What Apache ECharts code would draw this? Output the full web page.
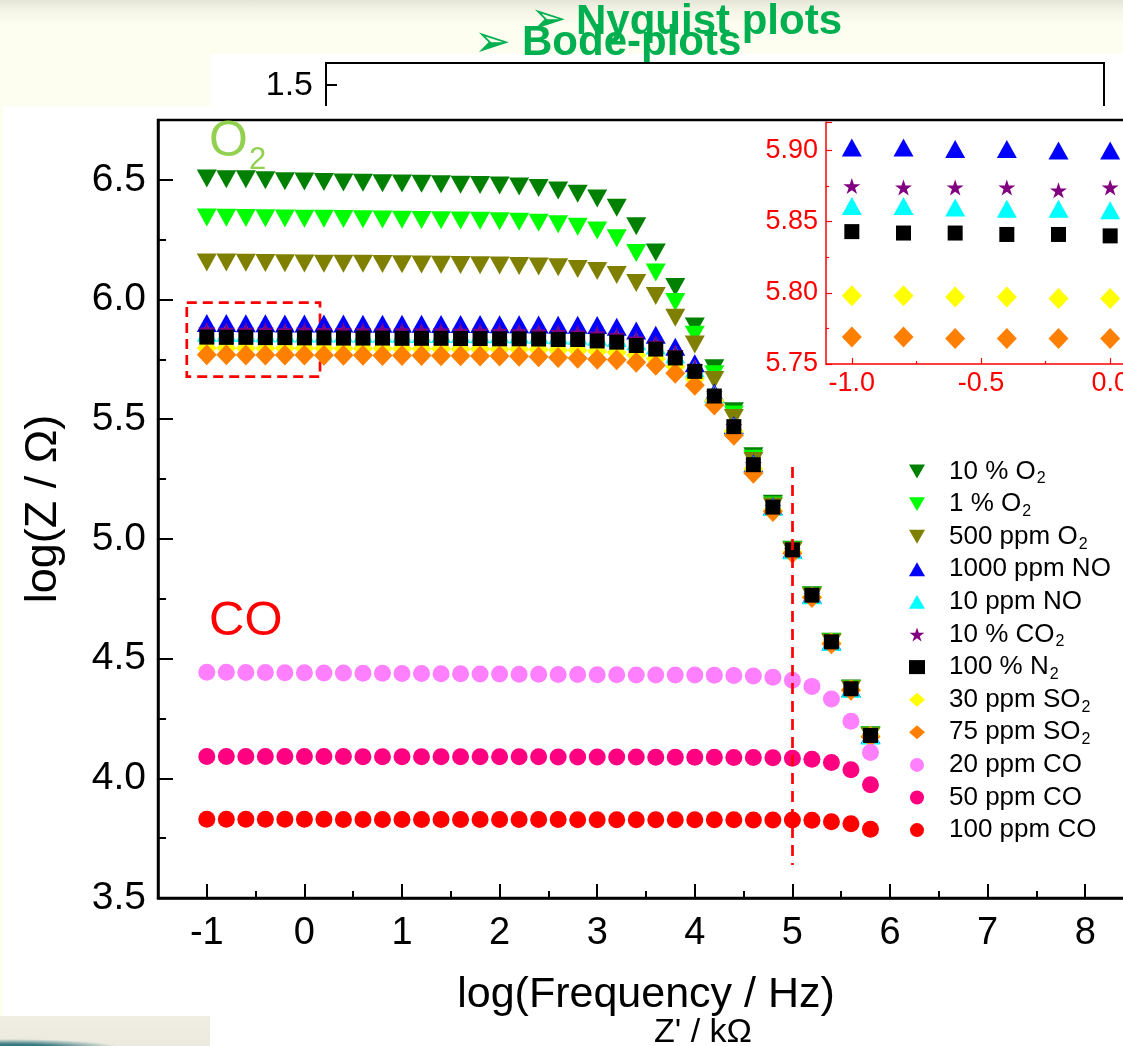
<!DOCTYPE html>
<html>
<head>
<meta charset="utf-8">
<script src="https://cdn.jsdelivr.net/npm/echarts@6/dist/echarts.min.js"></script>
<style>
  html, body { margin: 0; padding: 0; width: 1123px; height: 1046px; overflow: hidden; }
  body { position: relative; background: linear-gradient(#e4e4d8 0px, #f4f4e6 10px, #fefef0 24px, #fefef0 100%); }
  .panel { position: absolute; background: #ffffff; }
  #photo { position: absolute; left: 0; top: 1016px; width: 210px; height: 30px;
           background: radial-gradient(ellipse 110px 9px at 10px 32px, #2f6e78 0%, #3d7c84 45%, rgba(61,124,132,0) 100%),
                       linear-gradient(#f0eee3, #eceadf); }
  #chart { position: absolute; left: 0; top: 0; width: 1200px; height: 1046px; }
</style>
</head>
<body>
<div class="panel" style="left:210px; top:54px; width:913px; height:60px;"></div>
<div class="panel" style="left:3px; top:106px; width:1120px; height:910px;"></div>
<div class="panel" style="left:210px; top:1014px; width:913px; height:32px;"></div>
<div id="photo"></div>
<div id="chart"></div>
<script>
// log(frequency / Hz) of each measured point
const freq = [-1.0, -0.8, -0.6, -0.4, -0.2, 0.0, 0.2, 0.4, 0.6, 0.8, 1.0, 1.2, 1.4, 1.6, 1.8,
              2.0, 2.2, 2.4, 2.6, 2.8, 3.0, 3.2, 3.4, 3.6, 3.8, 4.0, 4.2, 4.4, 4.6, 4.8,
              5.0, 5.2, 5.4, 5.6, 5.8];

// log(|Z| / Ohm) per gas atmosphere
const o2_10pct = [6.506, 6.502, 6.502, 6.498, 6.494, 6.493, 6.491, 6.489, 6.488, 6.486, 6.485, 6.484, 6.482, 6.480, 6.478,
                  6.476, 6.472, 6.466, 6.455, 6.442, 6.422, 6.383, 6.306, 6.197, 6.052, 5.887, 5.713, 5.533, 5.345, 5.147,
                  4.955, 4.765, 4.570, 4.375, 4.180];
const o2_1pct = [6.343, 6.342, 6.341, 6.340, 6.339, 6.338, 6.337, 6.336, 6.335, 6.334, 6.333, 6.332, 6.331, 6.330, 6.329,
                 6.327, 6.325, 6.321, 6.315, 6.304, 6.288, 6.256, 6.194, 6.113, 5.990, 5.853, 5.688, 5.520, 5.335, 5.140,
                 4.952, 4.763, 4.568, 4.373, 4.178];
const o2_500ppm = [6.155, 6.155, 6.154, 6.153, 6.152, 6.151, 6.150, 6.150, 6.149, 6.148, 6.147, 6.146, 6.145, 6.144, 6.143,
                   6.142, 6.140, 6.138, 6.135, 6.128, 6.119, 6.103, 6.069, 6.015, 5.924, 5.812, 5.664, 5.505, 5.325, 5.135,
                   4.950, 4.760, 4.566, 4.371, 4.176];
const no_1000ppm = [5.902, 5.902, 5.901, 5.901, 5.900, 5.900, 5.900, 5.900, 5.899, 5.899, 5.899, 5.899, 5.898, 5.898, 5.898,
                    5.897, 5.897, 5.896, 5.895, 5.895, 5.894, 5.886, 5.871, 5.853, 5.803, 5.734, 5.612, 5.476, 5.316, 5.136,
                    4.956, 4.767, 4.572, 4.376, 4.181];
const no_10ppm = [5.861, 5.861, 5.860, 5.859, 5.859, 5.858, 5.858, 5.858, 5.857, 5.857, 5.857, 5.856, 5.856, 5.856, 5.855,
                  5.855, 5.854, 5.853, 5.851, 5.849, 5.845, 5.839, 5.826, 5.808, 5.770, 5.712, 5.604, 5.470, 5.311, 5.133,
                  4.953, 4.765, 4.570, 4.374, 4.179];
const co2_10pct = [5.875, 5.874, 5.874, 5.874, 5.872, 5.874, 5.873, 5.873, 5.872, 5.872, 5.872, 5.871, 5.871, 5.870, 5.870,
                   5.869, 5.868, 5.867, 5.865, 5.863, 5.859, 5.852, 5.838, 5.820, 5.781, 5.720, 5.608, 5.472, 5.313, 5.134,
                   4.954, 4.766, 4.571, 4.375, 4.180];
const n2_100pct = [5.843, 5.842, 5.842, 5.841, 5.841, 5.840, 5.840, 5.839, 5.839, 5.839, 5.838, 5.838, 5.838, 5.837, 5.837,
                   5.836, 5.836, 5.835, 5.833, 5.833, 5.827, 5.822, 5.808, 5.793, 5.756, 5.700, 5.597, 5.469, 5.310, 5.133,
                   4.954, 4.765, 4.570, 4.374, 4.179];
const so2_30ppm = [5.798, 5.798, 5.797, 5.797, 5.796, 5.796, 5.796, 5.795, 5.795, 5.795, 5.794, 5.794, 5.794, 5.793, 5.793,
                   5.792, 5.792, 5.791, 5.789, 5.788, 5.784, 5.779, 5.767, 5.753, 5.720, 5.668, 5.578, 5.450, 5.292, 5.120,
                   4.945, 4.758, 4.565, 4.370, 4.176];
const so2_75ppm = [5.769, 5.769, 5.768, 5.768, 5.768, 5.768, 5.767, 5.767, 5.767, 5.766, 5.766, 5.766, 5.765, 5.765, 5.764,
                   5.764, 5.763, 5.761, 5.758, 5.755, 5.751, 5.748, 5.738, 5.726, 5.692, 5.642, 5.559, 5.433, 5.274, 5.115,
                   4.940, 4.755, 4.562, 4.368, 4.174];
const co_20ppm = [4.443, 4.443, 4.442, 4.442, 4.441, 4.441, 4.440, 4.440, 4.439, 4.439, 4.438, 4.438, 4.437, 4.437, 4.436,
                  4.436, 4.435, 4.435, 4.434, 4.434, 4.433, 4.433, 4.432, 4.432, 4.432, 4.432, 4.431, 4.429, 4.427, 4.422,
                  4.410, 4.384, 4.331, 4.238, 4.108];
const co_50ppm = [4.091, 4.091, 4.091, 4.091, 4.091, 4.091, 4.091, 4.091, 4.090, 4.090, 4.090, 4.090, 4.090, 4.090, 4.090,
                  4.090, 4.090, 4.090, 4.089, 4.089, 4.089, 4.089, 4.089, 4.088, 4.088, 4.088, 4.088, 4.087, 4.087, 4.086,
                  4.084, 4.080, 4.066, 4.036, 3.973];
const co_100ppm = [3.829, 3.829, 3.829, 3.829, 3.829, 3.829, 3.829, 3.828, 3.828, 3.828, 3.828, 3.828, 3.828, 3.828, 3.828,
                   3.828, 3.828, 3.828, 3.828, 3.827, 3.827, 3.827, 3.827, 3.827, 3.827, 3.827, 3.827, 3.827, 3.826, 3.826,
                   3.826, 3.825, 3.819, 3.810, 3.787];

const seriesNames = ['10 % O2', '1 % O2', '500 ppm O2', '1000 ppm NO', '10 ppm NO', '10 % CO2',
                     '100 % N2', '30 ppm SO2', '75 ppm SO2', '20 ppm CO', '50 ppm CO', '100 ppm CO'];
const seriesValues = [o2_10pct, o2_1pct, o2_500ppm, no_1000ppm, no_10ppm, co2_10pct,
                      n2_100pct, so2_30ppm, so2_75ppm, co_20ppm, co_50ppm, co_100ppm];

// series shown again in the low-frequency zoom panel (indices into seriesNames)
const insetSeries = [3, 4, 5, 6, 7, 8];
const insetPointCount = 6;   // -1.0 ... 0.0

// axis ticks
const xTicks = [-1, 0, 1, 2, 3, 4, 5, 6, 7, 8];
const xMinorTicks = [-0.5, 0.5, 1.5, 2.5, 3.5, 4.5, 5.5, 6.5, 7.5];
const insetXTicks = [-1.0, -0.5, 0.0];
const insetXMinorTicks = [-0.75, -0.25];

// marked regions
const zoomBox = [[-1.205, 5.987], [0.16, 5.678]];
const cutoffLine = [[5.0, 5.30], [5.0, 3.638]];

// ---------- styling ----------
const FONT = '"Liberation Sans", Arial, Helvetica, sans-serif';
const colors = ['#008000', '#00ff00', '#808000', '#0000ff', '#00ffff', '#800080',
                '#000000', '#ffff00', '#ff8000', '#ff80ff', '#ff0080', '#ff0000'];
const DOWN = 'path://M0,0L20,0L10,17.32Z';
const UP = 'path://M10,0L20,17.32L0,17.32Z';
const STAR = 'path://M100,0L122.45,69.1L195.1,69.1L136.33,111.8L158.78,180.9L100,138.2L41.22,180.9L63.67,111.8L4.9,69.1L77.55,69.1Z';
const markers = [
  { symbol: DOWN, size: [20, 18] }, { symbol: DOWN, size: [20, 18] }, { symbol: DOWN, size: [20, 18] },
  { symbol: UP, size: [20, 18] }, { symbol: UP, size: [20, 18] }, { symbol: STAR, size: [17, 16] },
  { symbol: 'rect', size: [15, 15] }, { symbol: 'diamond', size: [20, 21] }, { symbol: 'diamond', size: [20, 21] },
  { symbol: 'circle', size: [17, 17] }, { symbol: 'circle', size: [17, 17] }, { symbol: 'circle', size: [17, 17] }
];
const drawOrder = [2, 2, 2, 2, 2, 2, 4, 2, 2, 2, 2, 2];

const mainSeries = seriesNames.map((name, i) => ({
  type: 'scatter', name: name, xAxisIndex: 0, yAxisIndex: 0,
  data: freq.map((f, j) => [f, seriesValues[i][j]]),
  symbol: markers[i].symbol, symbolSize: markers[i].size,
  itemStyle: { color: colors[i], opacity: 1 },
  z: drawOrder[i], silent: true
}));

const zoomSeries = insetSeries.map(i => ({
  type: 'scatter', name: seriesNames[i], xAxisIndex: 2, yAxisIndex: 1,
  data: freq.slice(0, insetPointCount).map((f, j) => [f, seriesValues[i][j]]),
  symbol: markers[i].symbol, symbolSize: markers[i].size,
  itemStyle: { color: colors[i], opacity: 1 },
  z: drawOrder[i], silent: true
}));

const annotationSeries = {
  type: 'scatter', xAxisIndex: 0, yAxisIndex: 0, data: [], silent: true, z: 5,
  markArea: {
    silent: true,
    itemStyle: { color: 'rgba(0,0,0,0)', borderColor: '#ff0000', borderWidth: 2.7, borderType: [10, 6] },
    data: [[{ coord: zoomBox[0] }, { coord: zoomBox[1] }]]
  },
  markLine: {
    silent: true, symbol: 'none', label: { show: false },
    lineStyle: { color: '#ff0000', width: 2.7, type: [11, 7] },
    data: [[{ coord: cutoffLine[0] }, { coord: cutoffLine[1] }]]
  }
};

const blackText = { color: '#000', fontFamily: FONT };
const redText = { color: '#ff0000', fontFamily: FONT };

const option = {
  animation: false,
  backgroundColor: 'transparent',
  grid: [
    { left: 158, top: 120, width: 976, height: 778, show: true, backgroundColor: '#ffffff',
      borderColor: '#000', borderWidth: 2.5 },
    { left: 826, top: 122, width: 310, height: 242 }
  ],
  xAxis: [
    { type: 'value', gridIndex: 0, min: -1.5, max: 8.5, position: 'bottom',
      axisLine: { onZero: false, lineStyle: { color: '#000', width: 2.5 } },
      axisTick: { inside: true, length: 14, lineStyle: { color: '#000', width: 2 }, customValues: xTicks },
      axisLabel: Object.assign({ fontSize: 38, margin: 17, customValues: xTicks, formatter: v => String(v) }, blackText),
      splitLine: { show: false },
      name: 'log(Frequency / Hz)', nameLocation: 'middle', nameGap: 76,
      nameTextStyle: Object.assign({ fontSize: 43 }, blackText) },
    { type: 'value', gridIndex: 0, min: -1.5, max: 8.5, position: 'bottom',
      axisLine: { show: false, onZero: false },
      axisTick: { inside: true, length: 7, lineStyle: { color: '#000', width: 2 }, customValues: xMinorTicks },
      axisLabel: { show: false }, splitLine: { show: false } },
    { type: 'value', gridIndex: 1, min: -1.1, max: 0.1, position: 'bottom',
      axisLine: { onZero: false, lineStyle: { color: '#ff0000', width: 1.5 } },
      axisTick: { inside: true, length: 6, lineStyle: { color: '#ff0000', width: 1.2 }, customValues: insetXTicks },
      axisLabel: Object.assign({ fontSize: 27, margin: 6, customValues: insetXTicks, formatter: v => v.toFixed(1) }, redText),
      splitLine: { show: false } },
    { type: 'value', gridIndex: 1, min: -1.1, max: 0.1, position: 'bottom',
      axisLine: { show: false, onZero: false },
      axisTick: { inside: true, length: 3, lineStyle: { color: '#ff0000', width: 1.2 }, customValues: insetXMinorTicks },
      axisLabel: { show: false }, splitLine: { show: false } }
  ],
  yAxis: [
    { type: 'value', gridIndex: 0, min: 3.5, max: 6.75, interval: 0.5, position: 'left',
      axisLine: { onZero: false, lineStyle: { color: '#000', width: 2.5 } },
      axisTick: { inside: true, length: 15, lineStyle: { color: '#000', width: 2 } },
      minorTick: { show: true, splitNumber: 2, length: 8, lineStyle: { color: '#000', width: 2 } },
      axisLabel: Object.assign({ fontSize: 39, margin: 12, showMaxLabel: false, formatter: v => v.toFixed(1) }, blackText),
      splitLine: { show: false },
      name: 'log(Z / Ω)', nameLocation: 'middle', nameGap: 92,
      nameTextStyle: Object.assign({ fontSize: 45 }, blackText) },
    { type: 'value', gridIndex: 1, min: 5.75, max: 5.92, interval: 0.05, position: 'left',
      axisLine: { onZero: false, lineStyle: { color: '#ff0000', width: 1.5 } },
      axisTick: { inside: true, length: 6, lineStyle: { color: '#ff0000', width: 1.2 } },
      minorTick: { show: true, splitNumber: 2, length: 3, lineStyle: { color: '#ff0000', width: 1.2 } },
      axisLabel: Object.assign({ fontSize: 27, margin: 8, showMaxLabel: false, formatter: v => v.toFixed(2) }, redText),
      splitLine: { show: false } }
  ],
  legend: {
    data: seriesNames, orient: 'vertical', left: 904, top: 451, itemGap: 1.6,
    itemWidth: 16, itemHeight: 14, symbolKeepAspect: true, selectedMode: false,
    formatter: n => n.replace(/([A-Z])2$/, '$1{sub|2}'),
    textStyle: {
      fontSize: 26, lineHeight: 31, color: '#000', fontFamily: FONT, padding: [0, 0, 0, 19],
      rich: { sub: { fontSize: 16, lineHeight: 16, padding: [15, 0, 0, 1], color: '#000', fontFamily: FONT } }
    }
  },
  graphic: [
    // frame of the figure lying behind this one
    { type: 'polyline', silent: true, z: 1,
      shape: { points: [[326, 106], [326, 63], [1104, 63], [1104, 106]] },
      style: { stroke: '#000', lineWidth: 2, fill: null } },
    { type: 'line', silent: true, shape: { x1: 326, y1: 85, x2: 337, y2: 85 }, style: { stroke: '#000', lineWidth: 2 } },
    { type: 'text', silent: true, x: 313, y: 86,
      style: { text: '1.5', font: '34px ' + FONT, fill: '#000', align: 'right', verticalAlign: 'middle' } },
    // slide headings
    { type: 'text', silent: true, x: 530, y: 22,
      style: { text: '➢', font: '44px "DejaVu Sans"', fill: '#00b050', align: 'left', verticalAlign: 'middle' } },
    { type: 'text', silent: true, x: 576, y: 22,
      style: { text: 'Nyquist plots', font: 'bold 42px ' + FONT, fill: '#00b050', align: 'left', verticalAlign: 'middle' } },
    { type: 'text', silent: true, x: 474, y: 45,
      style: { text: '➢', font: '44px "DejaVu Sans"', fill: '#00b050', align: 'left', verticalAlign: 'middle' } },
    { type: 'text', silent: true, x: 522, y: 43,
      style: { text: 'Bode-plots', font: 'bold 42px ' + FONT, fill: '#00b050', align: 'left', verticalAlign: 'middle' } },
    // gas group labels inside the plot
    { type: 'text', silent: true, x: 209, y: 142, z: 10,
      style: { text: 'O{s|2}', font: '50px ' + FONT, fill: '#92d050', verticalAlign: 'middle',
               rich: { s: { font: '31px ' + FONT, fill: '#92d050', padding: [36, 0, 0, 1] } } } },
    { type: 'text', silent: true, x: 209, y: 621, z: 10,
      style: { text: 'CO', font: '49px ' + FONT, fill: '#ff0000', verticalAlign: 'middle' } },
    // caption of the figure lying behind this one
    { type: 'text', silent: true, x: 703, y: 1033,
      style: { text: "Z' / kΩ", font: '34px ' + FONT, fill: '#000', align: 'center', verticalAlign: 'middle' } }
  ],
  series: mainSeries.concat(zoomSeries, [annotationSeries])
};

const chart = echarts.init(document.getElementById('chart'));
chart.setOption(option);
</script>
</body>
</html>
